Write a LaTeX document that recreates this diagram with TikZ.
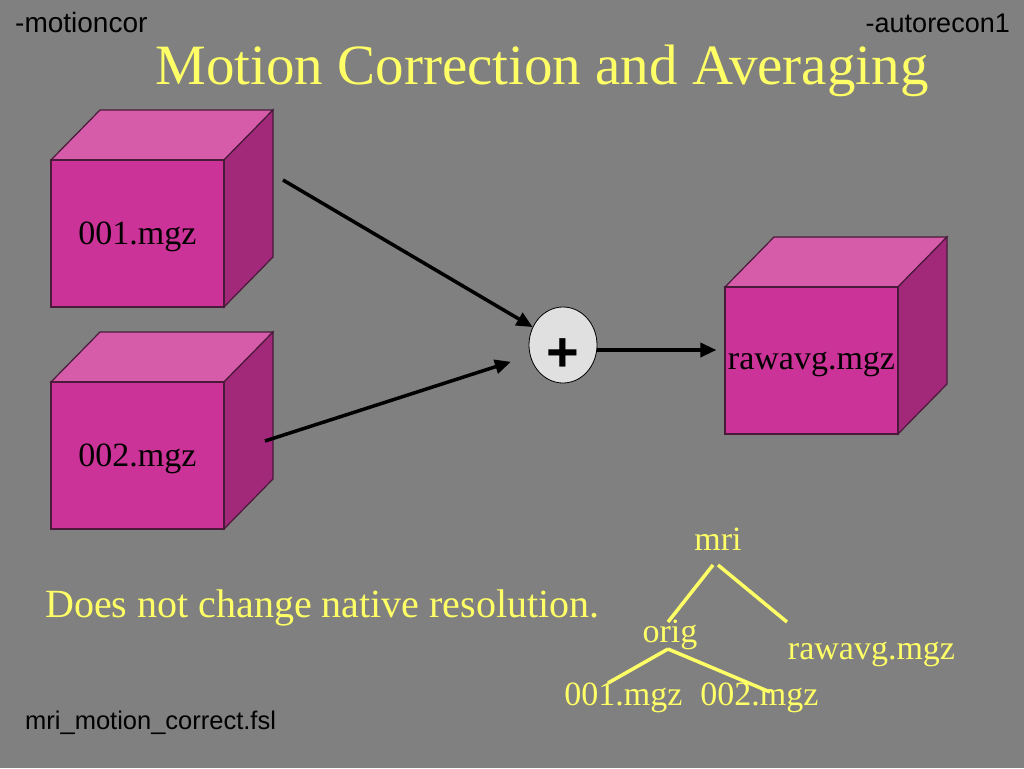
\documentclass[tikz,border=0pt]{standalone}
\usepackage{fontspec}
\setmainfont{Liberation Serif}
\setsansfont{Liberation Sans}
\usetikzlibrary{arrows.meta,shapes.geometric}
\definecolor{slidegray}{HTML}{808080}
\definecolor{cubefront}{HTML}{CC3399}
\definecolor{cubetop}{HTML}{D65CAA}
\definecolor{cubeside}{HTML}{A2287A}
\definecolor{cubeedge}{HTML}{4A1A3A}
\definecolor{slideyellow}{HTML}{FFFF66}
\newcommand{\px}[1]{\fontsize{#1}{#1}\selectfont}
\tikzset{
  cube/.style={draw=cubeedge,line width=1.2pt,fill=cubefront,minimum width=173,minimum height=147,inner sep=0,text depth=0pt,font=\px{34},text=black},
  arr/.style={line width=3.5pt,-{Triangle[length=16pt,width=14pt]}},
  branch/.style={draw=slideyellow,line width=3.5pt},
  treetext/.style={anchor=base,inner sep=0,text=slideyellow,font=\px{34}},
  corner/.style={anchor=base west,inner sep=0,font=\sffamily\px{26},text=black}
}
\begin{document}
\begin{tikzpicture}[x=1pt,y=-1pt]
\fill[slidegray] (0,0) rectangle (1024,768);
\useasboundingbox (0,0) rectangle (1024,768);
\node[corner,font=\sffamily\px{28}] (cmd) at (15,33) {-motioncor};
\node[corner,anchor=base east,font=\sffamily\px{27}] (stage) at (1010,33) {-autorecon1};
\node[corner,font=\sffamily\px{25.5}] (script) at (25,729) {mri\_motion\_correct.fsl};
\node[anchor=base,inner sep=0,text=slideyellow,font=\px{57}] (title) at (542,84) {Motion Correction and Averaging};
\node[anchor=base west,inner sep=0,text=slideyellow,font=\px{40}] (note) at (45,617) {Does not change native resolution.};
\foreach \name/\x/\y/\txt in {vol1/137.5/233.5/001.mgz, vol2/137.5/455.5/002.mgz, raw/811.5/360.5/rawavg.mgz} {
  \filldraw[draw=cubeedge,line width=1.2pt,fill=cubetop] (\x-86.5,\y-73.5) -- ++(49,-50) -- ++(173,0) -- ++(-49,50) -- cycle;
  \filldraw[draw=cubeedge,line width=1.2pt,fill=cubeside] (\x+86.5,\y-73.5) -- ++(49,-50) -- ++(0,147) -- ++(-49,50) -- cycle;
  \node[cube] (\name) at (\x,\y) {\txt};
}
\node[ellipse,draw=black,line width=0.8pt,fill=black!12,minimum width=68,minimum height=76,inner sep=0,text height=53pt,text depth=0pt,font=\sffamily\bfseries\px{56}] (plus) at (563,345) {+};
\coordinate (out1) at (283,180);
\coordinate (out2) at (265,441);
\draw[arr] (out1) -- (plus);
\draw[arr,shorten >=20pt] (out2) -- (plus);
\draw[arr,shorten >=8pt] ([shift={(0,5)}]plus.east) -- ([shift={(0,5)}]plus.east -| raw.west);
\node[treetext] (mri) at (718,550) {mri};
\node[treetext] (orig) at (670,642) {orig};
\node[treetext] (rawtree) at (871.5,659) {rawavg.mgz};
\node[treetext] (t001) at (623.5,705) {001.mgz};
\node[treetext] (t002) at (759.5,705) {002.mgz};
\draw[branch] ([shift={(-5,15)}]mri.base) -- ([shift={(-2,-20)}]orig.base);
\draw[branch] ([shift={(0,15)}]mri.base) -- ([shift={(-84.5,-37)}]rawtree.base);
\draw[branch] ([shift={(-2,7)}]orig.base) -- ([shift={(-15.5,-22)}]t001.base);
\draw[branch] ([shift={(-2,7)}]orig.base) -- ([shift={(10.5,-13)}]t002.base);
\end{tikzpicture}
\end{document}
